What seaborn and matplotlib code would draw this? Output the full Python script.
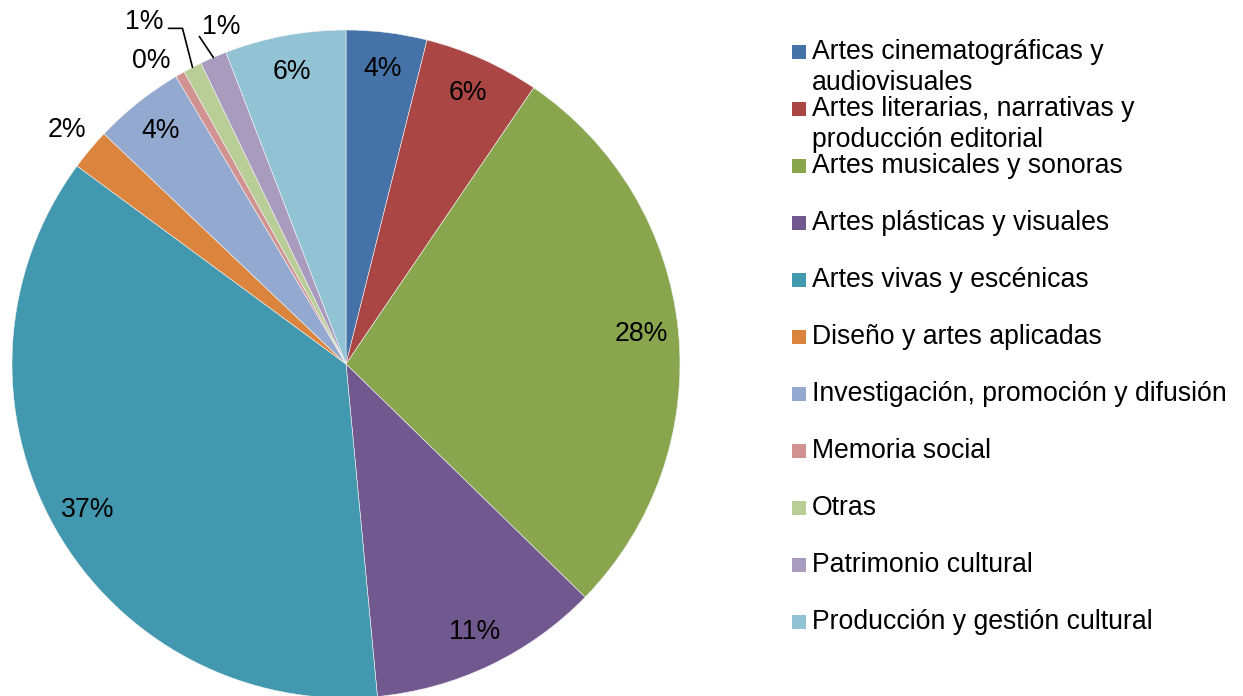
import numpy as np
import matplotlib.pyplot as plt
from matplotlib.patches import Rectangle
import seaborn as sns

categories = [
    "Artes cinematográficas y\naudiovisuales",
    "Artes literarias, narrativas y\nproducción editorial",
    "Artes musicales y sonoras",
    "Artes plásticas y visuales",
    "Artes vivas y escénicas",
    "Diseño y artes aplicadas",
    "Investigación, promoción y difusión",
    "Memoria social",
    "Otras",
    "Patrimonio cultural",
    "Producción y gestión cultural",
]
shares = [3.9, 5.6, 27.8, 11.2, 36.6, 2.0, 4.4, 0.45, 0.9, 1.3, 5.85]
colors = ["#4572A7", "#AA4643", "#89A54E", "#71588F", "#4198AF", "#DB843D",
          "#93A9CF", "#D19392", "#B9CD96", "#A99BBD", "#92C3D5"]

sns.set_theme(style="white")
plt.rcParams["font.family"] = ["Liberation Sans", "DejaVu Sans"]
plt.rcParams["text.color"] = "black"
FS = 19.2

W, H = 1243, 696
fig = plt.figure(figsize=(W / 100, H / 100), dpi=100)
ax = fig.add_axes([0, 0, 1, 1])

cx, cy, r = 346, H - 364, 334
wedges, _, pct = ax.pie(
    shares, colors=colors, startangle=90, counterclock=False,
    center=(cx, cy), radius=r, autopct="%.0f%%", pctdistance=0.89,
    wedgeprops=dict(edgecolor="#f4f4f4", linewidth=0.4),
    textprops=dict(fontsize=FS, color="black"),
)
ax.set_xlim(0, W)
ax.set_ylim(0, H)
ax.set_aspect("equal")
ax.axis("off")


def edge_point(i, k=1.0):
    w = wedges[i]
    a = np.deg2rad((w.theta1 + w.theta2) / 2)
    return cx + k * r * np.cos(a), cy + k * r * np.sin(a)


# small slices: labels outside
pct[5].set_position(edge_point(5, 1.09))
x, y = edge_point(7, 1.06)
pct[7].set_position((x, y - 4))
pct[7].set_ha("right")

# Otras: bent leader line
ex, ey = edge_point(8)
kx, ky = ex - 10, ey + 39
ax.plot([ex, kx, kx - 14], [ey, ky, ky], color="black", lw=1.2)
pct[8].set_position((kx - 19, ky + 6))
pct[8].set_ha("right")

# Patrimonio: straight leader line
ex, ey = edge_point(9)
lx, ly = ex - 14, ey + 21
ax.plot([ex, lx], [ey, ly], color="black", lw=1.2)
pct[9].set_position((lx + 22, ly + 9))

# legend drawn by hand so wrapped names keep the Excel row spacing
row0, step, line_h = H - 52, 57, 31
for i, (name, col) in enumerate(zip(categories, colors)):
    yc = row0 - i * step
    ax.add_patch(Rectangle((792, yc - 7), 14, 14, facecolor=col, edgecolor="none"))
    for j, line in enumerate(name.split("\n")):
        ax.text(812, yc - j * line_h, line, fontsize=FS, va="center", ha="left",
                color="black")

fig.savefig("out.png", dpi=100)
